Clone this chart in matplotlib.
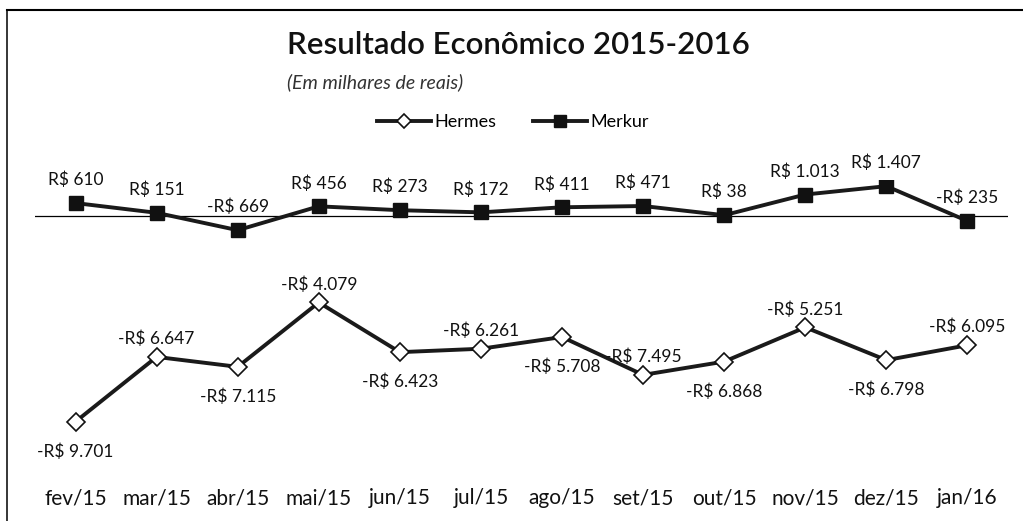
import matplotlib.pyplot as plt
from matplotlib.lines import Line2D

# resultado mensal por empresa, em milhares de reais
months = ['fev/15', 'mar/15', 'abr/15', 'mai/15', 'jun/15', 'jul/15',
          'ago/15', 'set/15', 'out/15', 'nov/15', 'dez/15', 'jan/16']
hermes = [-9701, -6647, -7115, -4079, -6423, -6261,
          -5708, -7495, -6868, -5251, -6798, -6095]
merkur = [610, 151, -669, 456, 273, 172, 411, 471, 38, 1013, 1407, -235]

# rótulos da Hermes alternam abaixo/acima do ponto
hermes_side = ['below', 'above'] * 6


def brl(v):
    s = f"{abs(v):,}".replace(",", ".")
    return ("-R$ " if v < 0 else "R$ ") + s


plt.rcParams['font.family'] = ['Lato', 'DejaVu Sans']

W, H = 1023, 521
fig = plt.figure(figsize=(W / 100, H / 100), dpi=100)
ax = fig.add_axes([35 / W, 51 / H, 973 / W, 290 / H])

x = list(range(len(months)))
ax.plot(x, hermes, color='#1a1a1a', lw=2.8, marker='D', ms=9,
        mfc='white', mec='#111111', mew=1.2, label='Hermes', zorder=3)
ax.plot(x, merkur, color='#1a1a1a', lw=2.8, marker='s', ms=10,
        mfc='#111111', mec='#111111', label='Merkur', zorder=3)
ax.axhline(0, color='black', lw=0.9, zorder=1)

ax.set_xlim(-0.5, 11.5)
ax.set_ylim(-11981, 1698)
ax.set_yticks([])
ax.set_xticks(x, months)
ax.tick_params(axis='x', length=0, pad=13, labelsize=15, colors='#111111')
for s in ax.spines.values():
    s.set_visible(False)

for i, v in enumerate(merkur):
    ax.annotate(brl(v), (i, v), xytext=(0, 23), textcoords='offset pixels',
                ha='center', va='center', fontsize=12.5, color='#111111')

for i, (v, side) in enumerate(zip(hermes, hermes_side)):
    dy = 18 if side == 'above' else -30
    ax.annotate(brl(v), (i, v), xytext=(0, dy), textcoords='offset pixels',
                ha='center', va='center', fontsize=12.5, color='#111111')

fig.text(287 / W, 1 - 45 / H, 'Resultado Econômico 2015-2016', fontsize=22.5,
         weight='semibold', ha='left', va='center', color='#111111')
fig.text(287 / W, 1 - 82 / H, '(Em milhares de reais)', fontsize=14,
         style='italic', ha='left', va='center', color='#333333')

handles, labels = ax.get_legend_handles_labels()
fig.legend(handles, labels, loc='center', bbox_to_anchor=(513 / W, 1 - 122 / H),
           ncol=2, frameon=False, fontsize=13, handlelength=3,
           handletextpad=0.2, columnspacing=2, markerscale=0.8)

# moldura (apenas topo e lateral esquerda visíveis)
fig.add_artist(Line2D([7 / W, 1], [1 - 10 / H, 1 - 10 / H], color='black', lw=1.5))
fig.add_artist(Line2D([7 / W, 7 / W], [0, 1 - 10 / H], color='black', lw=1.1))

fig.savefig('out.png', dpi=100, facecolor='white')
